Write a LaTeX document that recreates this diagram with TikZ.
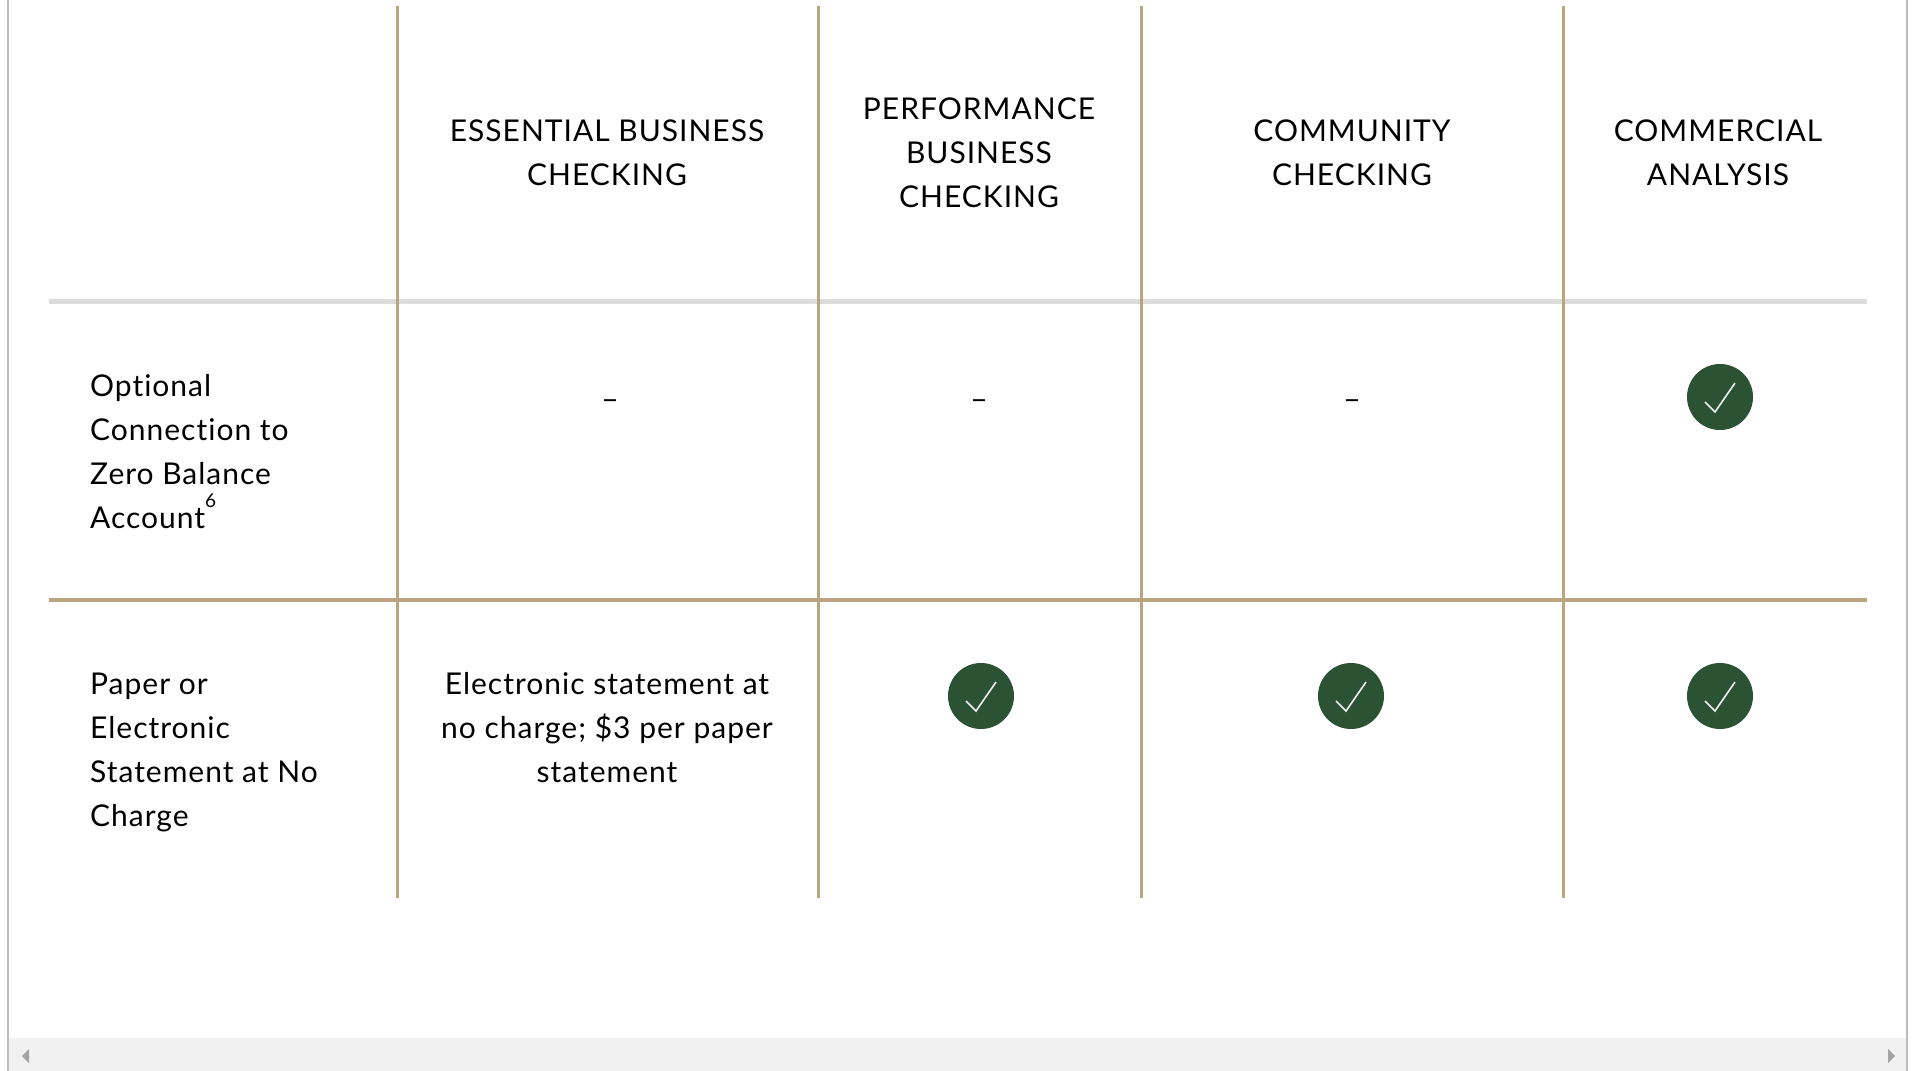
\documentclass[tikz,border=0pt]{standalone}
\usepackage{fontspec}
\setmainfont{Lato}[LetterSpace=3.3,Ligatures=CommonOff]
\usepackage{xcolor}
\begin{document}
\begin{tikzpicture}[x=1pt,y=-1pt,
  cell/.style={inner sep=0pt,align=center,font=\fontsize{30}{44}\selectfont},
  rowlabel/.style={inner sep=0pt,anchor=west,align=left,font=\fontsize{30}{44}\selectfont},
  tickdot/.style={circle,fill=forest,minimum size=66pt,inner sep=0pt},
  checkline/.style={draw=white!88!gray,line width=1.6pt}]
\definecolor{sand}{HTML}{BAA57E}
\definecolor{mist}{HTML}{DCDCDC}
\definecolor{forest}{HTML}{2C5234}
\definecolor{frame}{HTML}{BDBDBD}
\definecolor{track}{HTML}{F1F1F1}
\definecolor{knob}{HTML}{A3A3A3}
\useasboundingbox (0,0) rectangle (1915,1071);
\fill[white] (0,0) rectangle (1915,1071);
\fill[track] (9,1038) rectangle (1906,1071);
\fill[knob] (22,1056) -- (29,1049) -- (29,1063) -- cycle;
\fill[knob] (1895,1056) -- (1888,1049) -- (1888,1063) -- cycle;
\draw[frame,line width=1.5pt] (8,0) -- (8,1071) (1907,0) -- (1907,1071);
\draw[mist,line width=5pt] (49,301.5) -- (1867,301.5);
\draw[sand,line width=3.5pt] (49,600) -- (1867,600);
\foreach \colx in {397,818,1141,1563}
  {\draw[sand,line width=3pt] (\colx,6) -- (\colx,898);}
\node[cell] (essential) at (607,153) {ESSENTIAL BUSINESS\\CHECKING};
\node[cell] (performance) at (979,153) {PERFORMANCE\\BUSINESS\\CHECKING};
\node[cell] (community) at (1352,153) {COMMUNITY\\CHECKING};
\node[cell] (commercial) at (1718,153) {COMMERCIAL\\ANALYSIS};
\node[rowlabel] (zba) at (90,452) {Optional\\Connection to\\Zero Balance\\Account\raisebox{21pt}{\fontsize{19}{19}\selectfont 6}};
\node[rowlabel] (statement) at (90,752) {Paper or\\Electronic\\Statement at No\\Charge};
\node[cell] (esspaper) at (607,728) {Electronic statement at\\no charge; \$3 per paper\\statement};
\foreach \nm/\cx in {essdash/610,perfdash/979,commdash/1352}
  {\node[cell,anchor=base] (\nm) at (\cx,409) {–};}
\foreach \nm/\cx/\cy in {commzba/1720/397,perfpaper/981/696,commpaper/1351/696,analpaper/1720/696}
  {\node[tickdot] (\nm) at (\cx,\cy) {};
   \draw[checkline] ([shift={(-15,5)}]\nm.center) -- ([shift={(-5,15)}]\nm.center) -- ([shift={(15,-14)}]\nm.center);}
\end{tikzpicture}
\end{document}
